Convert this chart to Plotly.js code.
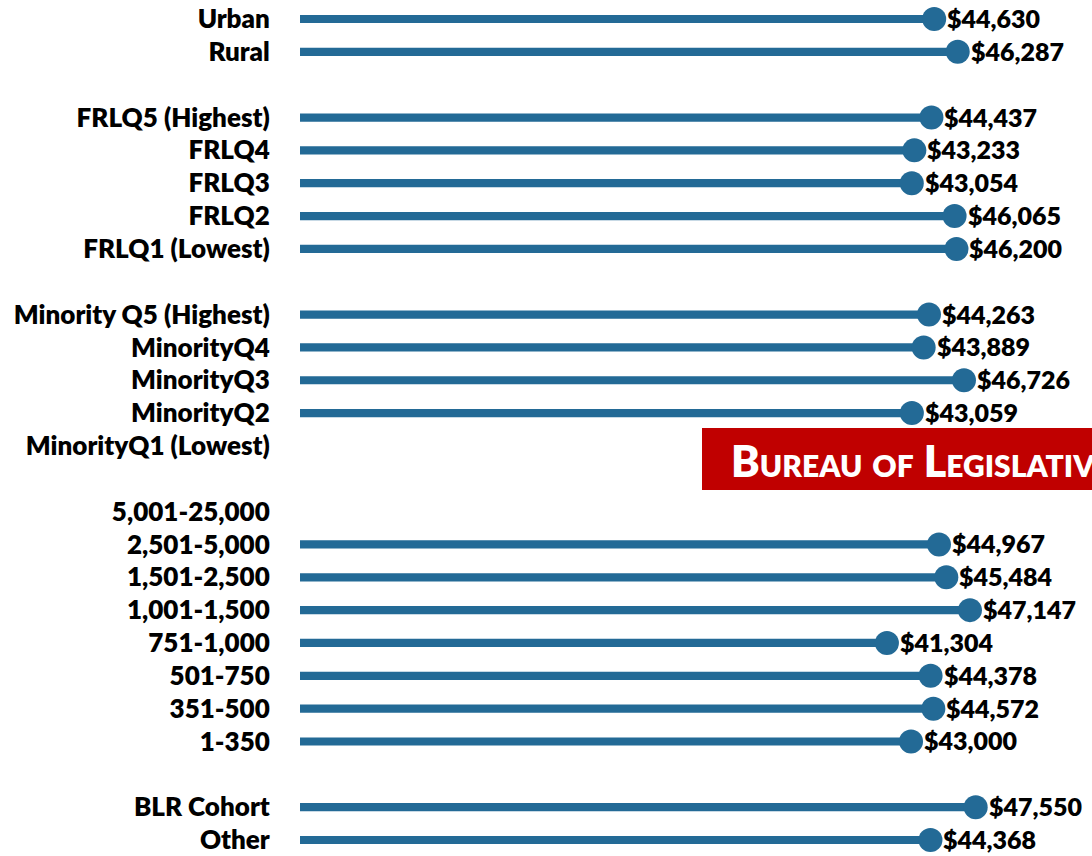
<!DOCTYPE html>
<html><head><meta charset="utf-8">
<script src="https://cdn.plot.ly/plotly-3.0.1.min.js"></script>
<style>html,body{margin:0;padding:0;background:#fff;}#chart{width:1092px;height:856px;}</style>
</head><body><div id="chart"></div>
<script>
// Groups of categories (top to bottom) and their values (null = no data)
const locale = ["Urban", "Rural"];
const localeVals = [44630, 46287];
const frl = ["FRLQ5 (Highest)", "FRLQ4", "FRLQ3", "FRLQ2", "FRLQ1 (Lowest)"];
const frlVals = [44437, 43233, 43054, 46065, 46200];
const minority = ["Minority Q5 (Highest)", "MinorityQ4", "MinorityQ3", "MinorityQ2", "MinorityQ1 (Lowest)"];
const minorityVals = [44263, 43889, 46726, 43059, null];
const size = ["5,001-25,000", "2,501-5,000", "1,501-2,500", "1,001-1,500", "751-1,000", "501-750", "351-500", "1-350"];
const sizeVals = [null, 44967, 45484, 47147, 41304, 44378, 44572, 43000];
const cohort = ["BLR Cohort", "Other"];
const cohortVals = [47550, 44368];

const groups = [[locale, localeVals], [frl, frlVals], [minority, minorityVals], [size, sizeVals], [cohort, cohortVals]];
const labels = [], vals = [], rows = [];
let r = 0;
groups.forEach((g, gi) => {
  if (gi > 0) r += 1; // blank row between groups
  g[0].forEach((lab, i) => { labels.push(lab); vals.push(g[1][i]); rows.push(r); r += 1; });
});
const totalRows = r;
const COLOR = "#236a96";
const FONT = "Lato, 'Open Sans', sans-serif";
const fmt = v => v == null ? "" : "$" + v.toLocaleString("en-US");

const idx = vals.map((v, i) => i).filter(i => vals[i] != null);
const bars = {
  type: "bar", orientation: "h",
  x: idx.map(i => vals[i]), y: idx.map(i => rows[i]),
  width: 0.25, marker: {color: COLOR}, hoverinfo: "skip"
};
const dots = {
  type: "scatter", mode: "markers",
  x: idx.map(i => vals[i]), y: idx.map(i => rows[i]),
  marker: {color: COLOR, size: 24}, cliponaxis: false
};
const valueLabels = idx.map(i => ({
  x: vals[i], y: rows[i], xref: "x", yref: "y", text: fmt(vals[i]),
  showarrow: false, xanchor: "left", yanchor: "middle", xshift: 11, yshift: 1,
  font: {family: FONT, size: 25, weight: 800, color: "#000"}
}));

const layout = {
  width: 1092, height: 856,
  margin: {l: 300, r: 0, t: 0, b: 0},
  paper_bgcolor: "#fff", plot_bgcolor: "#fff",
  showlegend: false,
  xaxis: {range: [0, 55736], showgrid: false, zeroline: false, showticklabels: false, showline: false, fixedrange: true},
  yaxis: {range: [totalRows - 1 + 0.487, -0.579], showgrid: false, zeroline: false, showline: false,
          tickmode: "array", tickvals: rows, ticktext: labels,
          ticks: "outside", ticklen: 24, tickcolor: "rgba(0,0,0,0)",
          tickfont: {family: FONT, size: 26, weight: 800, color: "#000"}},
  shapes: [{type: "rect", xref: "paper", yref: "paper", x0: (702 - 300) / 792, x1: 1.1,
            y0: 1 - 490 / 856, y1: 1 - 428 / 856, fillcolor: "#c00000", line: {width: 0}, layer: "above"}],
  annotations: valueLabels.concat([{xref: "paper", yref: "paper", x: (729 - 300) / 792, y: 1 - 461 / 856,
                 xanchor: "left", yanchor: "middle", showarrow: false,
                 text: "Bureau of Legislative Research",
                 font: {family: FONT, size: 43, weight: 800, color: "#fff", variant: "small-caps"}}])
};
Plotly.newPlot("chart", [bars, dots], layout, {displayModeBar: false, staticPlot: true});
</script></body></html>
